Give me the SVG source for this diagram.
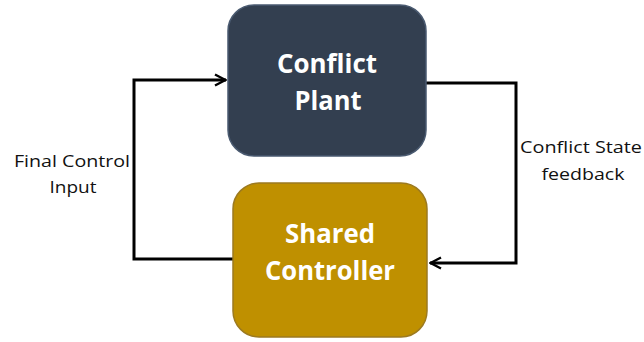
<svg xmlns="http://www.w3.org/2000/svg" width="644" height="342" viewBox="0 0 644 342">
<defs>
<marker id="arr" viewBox="0 0 14 14" refX="13" refY="7" markerWidth="14" markerHeight="14" markerUnits="userSpaceOnUse" orient="auto">
<path d="M2,1.5 L12.5,7 L2,12.5" fill="none" stroke="#000" stroke-width="2.4"/>
</marker>
</defs>
<style>
.box{stroke-width:1.5}
.title{font-family:"Open Sans","Liberation Sans",sans-serif;font-weight:bold;font-size:27px;fill:#fff;text-anchor:middle}
.lbl{font-family:"Open Sans","Liberation Sans",sans-serif;font-size:17px;fill:#111;text-anchor:middle}
.wire{fill:none;stroke:#000;stroke-width:3}
</style>
<rect width="644" height="342" fill="#fff"/>
<g id="connectors">
<path class="wire" d="M233,259 H134 V80 H226" marker-end="url(#arr)"/>
<path class="wire" d="M426,83 H516 V263 H430" marker-end="url(#arr)"/>
</g>
<g id="plant">
<rect class="box" x="228" y="5" width="198" height="151" rx="26" fill="#333F50" stroke="#4a5a70"/>
<text class="title" x="327" y="73" textLength="100" lengthAdjust="spacingAndGlyphs">Conflict</text>
<text class="title" x="328" y="110" textLength="67" lengthAdjust="spacingAndGlyphs">Plant</text>
</g>
<g id="controller">
<rect class="box" x="233" y="183" width="194" height="154" rx="26" fill="#BF9000" stroke="#9c7a20"/>
<text class="title" x="330" y="243" textLength="90" lengthAdjust="spacingAndGlyphs">Shared</text>
<text class="title" x="330" y="280" textLength="130" lengthAdjust="spacingAndGlyphs">Controller</text>
</g>
<g id="labels">
<text class="lbl" x="72" y="167" textLength="116" lengthAdjust="spacingAndGlyphs">Final Control</text>
<text class="lbl" x="73" y="193" textLength="47" lengthAdjust="spacingAndGlyphs">Input</text>
<text class="lbl" x="581" y="153" textLength="122" lengthAdjust="spacingAndGlyphs">Conflict State</text>
<text class="lbl" x="583" y="180" textLength="83" lengthAdjust="spacingAndGlyphs">feedback</text>
</g>
</svg>
